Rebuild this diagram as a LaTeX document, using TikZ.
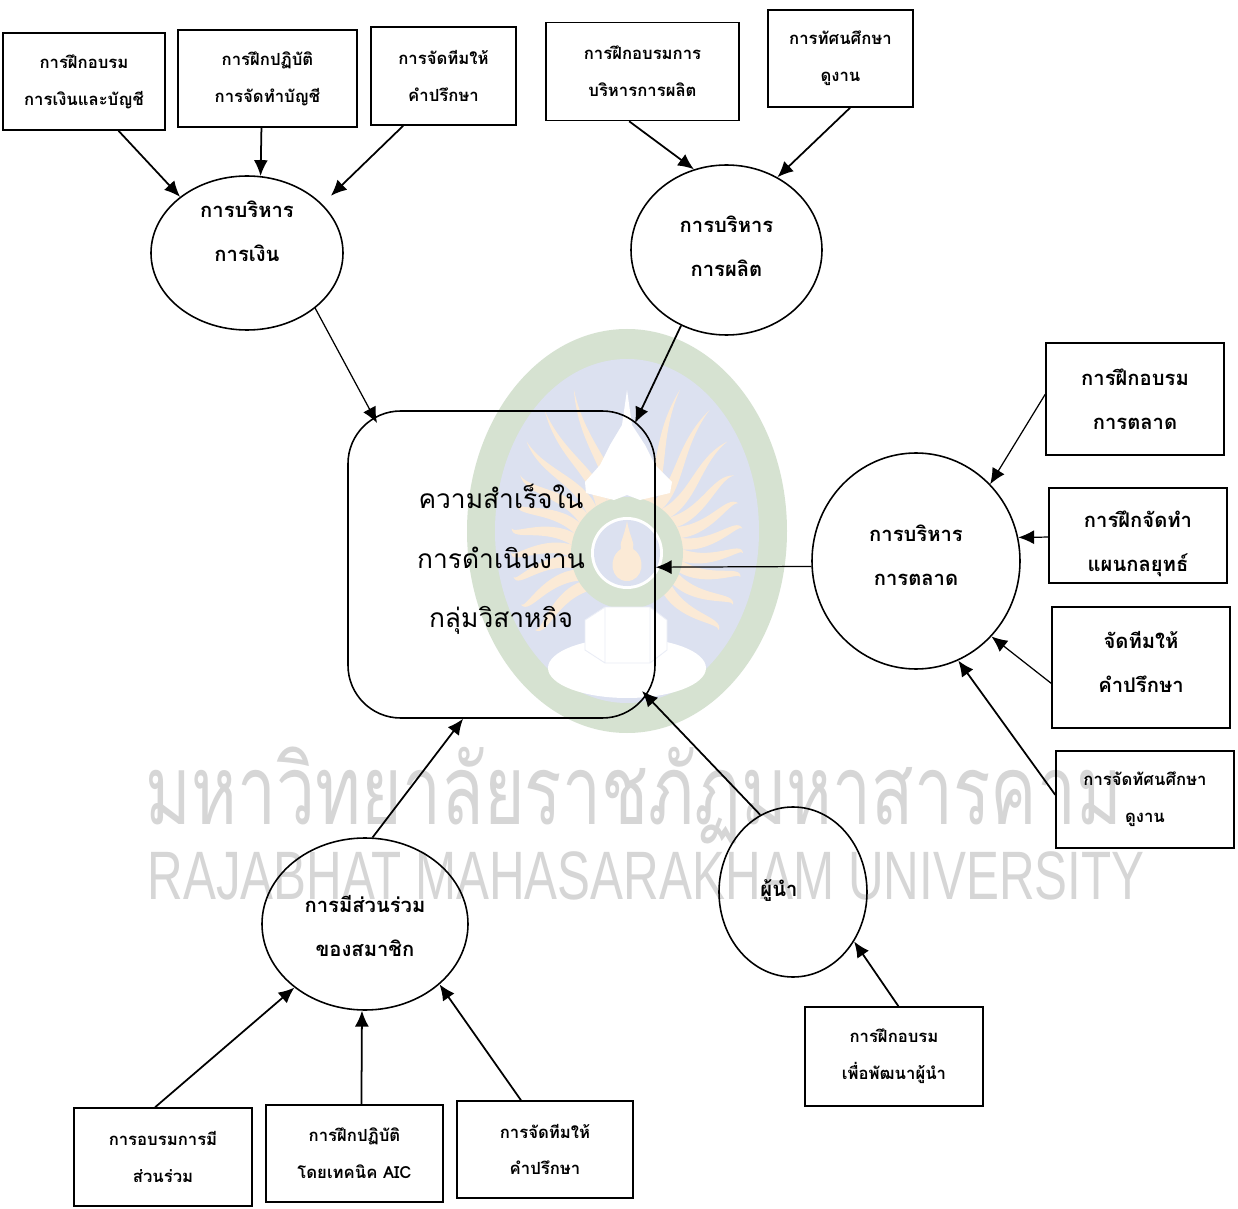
\documentclass[tikz,border=0pt]{standalone}
\usepackage{fontspec}
\usetikzlibrary{shapes.geometric,arrows.meta}
\newfontfamily\thaifont[Script=Thai]{Loma}
\setmainfont{Liberation Sans}
\definecolor{sealgreen}{HTML}{D6E2D1}
\definecolor{sealblue}{HTML}{DCE1F0}
\definecolor{sealorange}{HTML}{FBEAD6}
\definecolor{markgray}{HTML}{D6D6D6}
\newcommand{\lifted}[2]{\raisebox{\dimexpr#1-0.25em\relax}[0pt][0pt]{\begin{tabular}{@{}c@{}}#2\end{tabular}}}
\tikzset{
  trainbox/.style 2 args={draw,rectangle,line width=0.9pt,inner sep=0pt,align=center,minimum width=#1*0.02cm,minimum height=#2*0.02cm,font=\thaifont\bfseries\fontsize{9.5}{21}\selectfont},
  bigbox/.style 2 args={trainbox={#1}{#2},font=\thaifont\bfseries\fontsize{11.5}{25}\selectfont},
  mgmt/.style 2 args={draw,ellipse,line width=0.9pt,inner sep=0pt,align=center,minimum width=#1*0.02cm,minimum height=#2*0.02cm,font=\thaifont\bfseries\fontsize{11.5}{25}\selectfont},
  link/.style={line width=1pt,-{Latex[length=9pt,width=8pt]}},
  thinlink/.style={line width=0.7pt,-{Latex[length=9pt,width=8pt]}}
}
\begin{document}
\begin{tikzpicture}[x=0.02cm,y=-0.02cm]
  \useasboundingbox (0,0) rectangle (1238,1209);
  \fill[white] (0,0) rectangle (1238,1209);
  % seal
  \fill[sealgreen] (627,531) ellipse [x radius=160,y radius=202];
  \fill[sealblue] (627,531) ellipse [x radius=132,y radius=172];
  \begin{scope}[shift={(627,553)}]
    \foreach \a/\r in {-72/172,-60/165,-48/150,-36/132,-24/122,-12/118,0/116,12/116,26/118,40/120,-108/172,-120/165,-132/150,-144/132,-156/122,-168/118,180/116,168/116,154/118,140/120}
      \fill[sealorange] (\a-7:50) .. controls (\a+7:85) and (\a-7:115) .. (\a:\r) .. controls (\a-3:115) and (\a+14:85) .. (\a+7:50) -- cycle;
    \fill[sealgreen] (0,0) circle [radius=56];
    \fill[white] (0,0) circle [radius=36];
    \fill[sealblue] (0,0) circle [radius=33];
    \fill[sealorange] (0,-32) .. controls (3,-15) and (8,-10) .. (6,-4) .. controls (20,5) and (16,28) .. (0,28) .. controls (-16,28) and (-20,5) .. (-6,-4) .. controls (-8,-10) and (-3,-15) .. (0,-32) -- cycle;
  \end{scope}
  % stupa and base
  \fill[white] (627,390) -- (632,425) -- (645,445) -- (655,465) -- (672,482) -- (670,493) -- (640,500) -- (627,495) -- (614,500) -- (586,493) -- (585,482) -- (600,465) -- (610,445) -- (622,425) -- cycle;
  \fill[white] (627,668) ellipse [x radius=79,y radius=30];
  \fill[white] (605,607) -- (650,607) -- (667,620) -- (667,650) -- (650,663) -- (605,663) -- (585,650) -- (585,620) -- cycle;
  \draw[sealblue!60,line width=0.5pt] (605,607) -- (650,607) -- (667,620) -- (667,650) -- (650,663) -- (605,663) -- (585,650) -- (585,620) -- cycle (605,607) -- (605,663) (650,607) -- (650,663);
  % watermark
  \node[inner sep=0pt,text=markgray,font=\thaifont\fontsize{55}{55}\selectfont] (markthai) at (634,795) {\scalebox{0.72}[1]{มหาวิทยาลัยราชภัฏมหาสารคาม}};
  \node[inner sep=0pt,text=markgray,font=\fontsize{39}{39}\selectfont] (marklatin) at (646,876) {\scalebox{0.72}[1]{RAJABHAT MAHASARAKHAM UNIVERSITY}};
  % centre
  \node[draw,rectangle,rounded corners=30pt,line width=0.9pt,inner sep=0pt,minimum width=307*0.02cm,minimum height=307*0.02cm] (goal) at (501.5,564.5) {};
  \node[inner sep=0pt,align=center,font=\thaifont\fontsize{15}{34}\selectfont] (goaltext) at (501,559.5) {ความสำเร็จใน\\การดำเนินงาน\\กลุ่มวิสาหกิจ};
  \coordinate (goalA) at (377,423);
  \coordinate (goalB) at (635,423);
  \coordinate (goalC) at (642,691);
  % management circles
  \node[mgmt={192}{154}] (finance) at (247,253) {การบริหาร\\การเงิน\\\mbox{}};
  \node[mgmt={191}{170}] (produce) at (726.5,250) {\lifted{2.2pt}{การบริหาร\\การผลิต}};
  \node[mgmt={208}{216}] (market) at (916,561) {\lifted{3.4pt}{การบริหาร\\การตลาด}};
  \node[mgmt={206}{172}] (member) at (365,924) {\lifted{-1pt}{การมีส่วนร่วม\\ของสมาชิก}};
  \node[mgmt={148}{170}] (leader) at (793,892) {\lifted{2.3pt}{ผู้นำ\hspace*{16pt}}};
  % finance boxes
  \node[trainbox={162}{97}] (fin1) at (84,81.5) {การฝึกอบรม\\การเงินและบัญชี};
  \node[trainbox={179}{97}] (fin2) at (267.5,78.5) {การฝึกปฏิบัติ\\การจัดทำบัญชี};
  \node[trainbox={145}{98}] (fin3) at (443.5,76) {การจัดทีมให้\\คำปรึกษา};
  % production boxes
  \node[trainbox={193}{98}] (pro1) at (642.5,71.5) {การฝึกอบรมการ\\บริหารการผลิต};
  \node[trainbox={145}{97}] (pro2) at (840.5,58.5) {การทัศนศึกษา\\ดูงาน};
  % marketing boxes
  \node[bigbox={178}{112}] (mar1) at (1135,399) {การฝึกอบรม\\การตลาด};
  \node[bigbox={178}{95}] (mar2) at (1138,535.5) {\lifted{-3pt}{การฝึกจัดทำ\\แผนกลยุทธ์}};
  \node[bigbox={178}{121}] (mar3) at (1141,667.5) {\lifted{3.4pt}{จัดทีมให้\\คำปรึกษา}};
  \node[trainbox={178}{97}] (mar4) at (1145,799.5) {การจัดทัศนศึกษา\\ดูงาน};
  % member boxes
  \node[trainbox={178}{98}] (mem1) at (163,1157) {การอบรมการมี\\ส่วนร่วม};
  \node[trainbox={177}{97}] (mem2) at (354.5,1153.5) {การฝึกปฏิบัติ\\โดยเทคนิค AIC};
  \node[trainbox={176}{97}] (mem3) at (545,1149.5) {การจัดทีมให้\\คำปรึกษา};
  % leader box
  \node[trainbox={178}{99}] (lead1) at (894,1056.5) {การฝึกอบรม\\เพื่อพัฒนาผู้นำ};
  % arrows to circles
  \draw[link] (fin1.-55.5) -- (finance.140.6);
  \draw[link] (fin2.-97.6) -- (finance.80);
  \draw[link,shorten >=6.8pt] (fin3.-129.6) -- (finance.33.2);
  \draw[link] (pro1.-105) -- (produce.112);
  \draw[link] (pro2.-79) -- (produce.55.5);
  \draw[thinlink] (mar1.177.4) -- (market.46.5);
  \draw[thinlink] (mar2.-179) -- (market.13.4);
  \draw[thinlink] (mar3.-170.75) -- (market.-45);
  \draw[link] (mar4.177) -- (market.-67);
  \draw[link] (mem1.99.3) -- (member.-138);
  \draw[link] (mem2.82.4) -- (member.-92.7);
  \draw[link] (mem3.116.3) -- (member.-39);
  \draw[link] (lead1.85.4) -- (leader.-39.6);
  % arrows to centre
  \draw[thinlink] (finance.-39.4) -- (goalA);
  \draw[link] (produce.-121) -- (goalB);
  \draw[thinlink] (market.-177) -- (goal.-1.3);
  \draw[link] (member.85.3) -- (goal.-104.1);
  \draw[link] (leader.113.5) -- (goalC);
\end{tikzpicture}
\end{document}
